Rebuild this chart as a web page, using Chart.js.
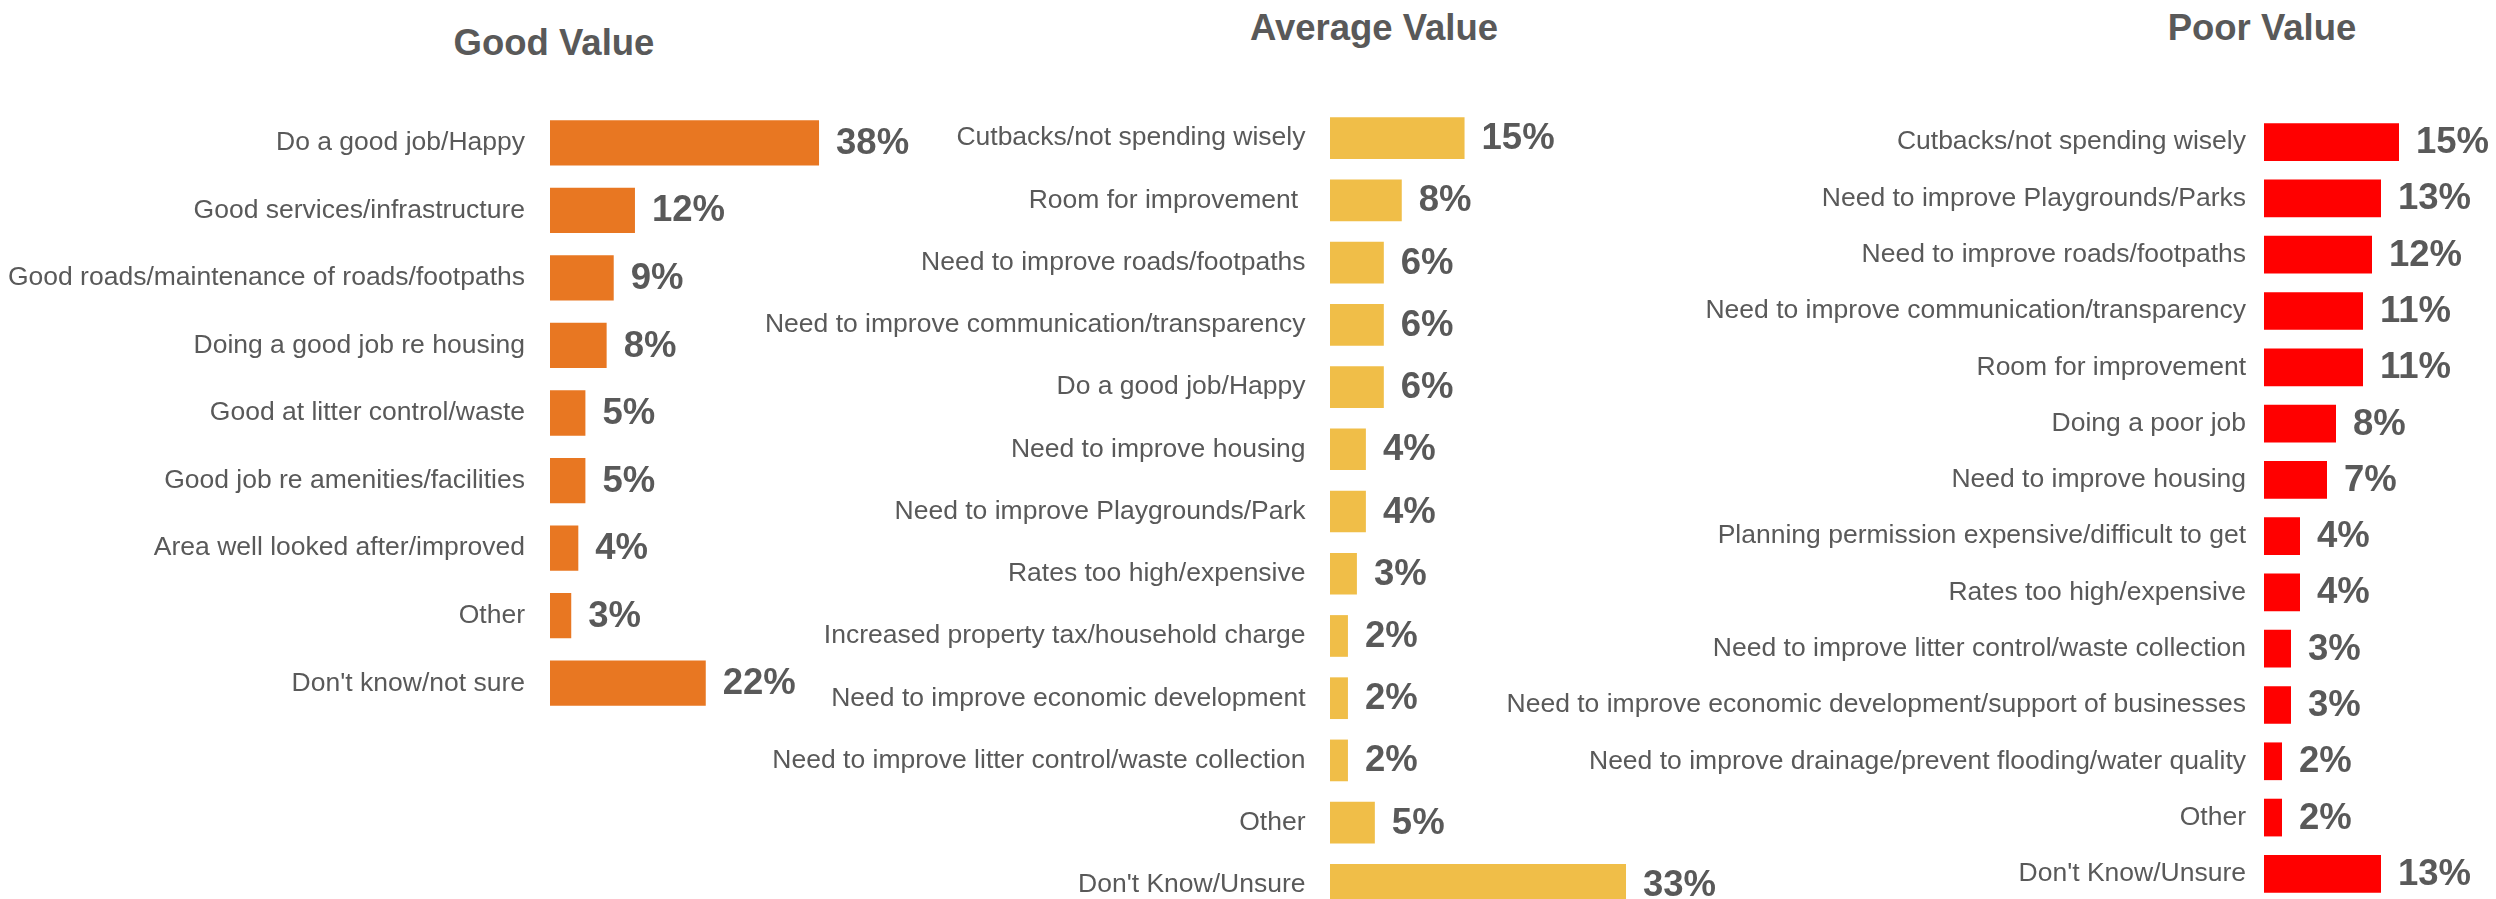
<!DOCTYPE html>
<html>
<head>
<meta charset="utf-8">
<script src="https://cdn.jsdelivr.net/npm/chart.js@4.4.1/dist/chart.umd.min.js"></script>
<style>
html,body{margin:0;padding:0;width:2496px;height:899px;overflow:hidden;background:#ffffff;}
#wrap{position:relative;width:2496px;height:899px;overflow:hidden;}
canvas{position:absolute;}
.title{position:absolute;font-family:"Liberation Sans",Arial,sans-serif;font-weight:bold;font-size:36.5px;line-height:36px;color:#595959;white-space:nowrap;transform:translateX(-50%);}
</style>
</head>
<body>
<div id="wrap">
  <div class="title" id="t0" style="left:554px;top:25px"></div>
  <div class="title" id="t1" style="left:1374px;top:10px"></div>
  <div class="title" id="t2" style="left:2262px;top:10px"></div>
  <canvas id="c0" width="975" height="608" style="left:0px;top:109px"></canvas>
  <canvas id="c1" width="1040" height="809" style="left:740px;top:107px"></canvas>
  <canvas id="c2" width="1010" height="788" style="left:1480px;top:114px"></canvas>
</div>
<script>
const panelTitles = ["Good Value", "Average Value", "Poor Value"];

const goodCategories = [
  "Do a good job/Happy",
  "Good services/infrastructure",
  "Good roads/maintenance of roads/footpaths",
  "Doing a good job re housing",
  "Good at litter control/waste",
  "Good job re amenities/facilities",
  "Area well looked after/improved",
  "Other",
  "Don't know/not sure"
];
const goodValues = [38, 12, 9, 8, 5, 5, 4, 3, 22];

const averageCategories = [
  "Cutbacks/not spending wisely",
  "Room for improvement ",
  "Need to improve roads/footpaths",
  "Need to improve communication/transparency",
  "Do a good job/Happy",
  "Need to improve housing",
  "Need to improve Playgrounds/Park",
  "Rates too high/expensive",
  "Increased property tax/household charge",
  "Need to improve economic development",
  "Need to improve litter control/waste collection",
  "Other",
  "Don't Know/Unsure"
];
const averageValues = [15, 8, 6, 6, 6, 4, 4, 3, 2, 2, 2, 5, 33];

const poorCategories = [
  "Cutbacks/not spending wisely",
  "Need to improve Playgrounds/Parks",
  "Need to improve roads/footpaths",
  "Need to improve communication/transparency",
  "Room for improvement",
  "Doing a poor job",
  "Need to improve housing",
  "Planning permission expensive/difficult to get",
  "Rates too high/expensive",
  "Need to improve litter control/waste collection",
  "Need to improve economic development/support of businesses",
  "Need to improve drainage/prevent flooding/water quality",
  "Other",
  "Don't Know/Unsure"
];
const poorValues = [15, 13, 12, 11, 11, 8, 7, 4, 4, 3, 3, 2, 2, 13];

const FONT = '"Liberation Sans", Arial, sans-serif';
const GREY = '#595959';

panelTitles.forEach((t, i) => { document.getElementById('t' + i).textContent = t; });

const valueLabels = {
  id: 'valueLabels',
  afterDatasetsDraw(chart) {
    const ctx = chart.ctx;
    const meta = chart.getDatasetMeta(0);
    const vals = chart.data.datasets[0].data;
    ctx.save();
    ctx.font = 'bold 36.5px ' + FONT;
    ctx.fillStyle = GREY;
    ctx.textAlign = 'left';
    ctx.textBaseline = 'middle';
    meta.data.forEach((bar, i) => {
      ctx.fillText(vals[i] + '%', bar.x + 17, bar.y + 1);
    });
    ctx.restore();
  }
};

function makeChart(id, categories, values, color, axisWidth, tickPad, pxPerPct) {
  const canvas = document.getElementById(id);
  const xMax = (canvas.width - axisWidth) / pxPerPct;
  return new Chart(canvas, {
    type: 'bar',
    data: {
      labels: categories,
      datasets: [{
        data: values,
        backgroundColor: color,
        borderWidth: 0,
        barPercentage: 0.67,
        categoryPercentage: 1.0
      }]
    },
    options: {
      indexAxis: 'y',
      responsive: false,
      animation: false,
      layout: { padding: 0 },
      plugins: { legend: { display: false }, title: { display: false }, tooltip: { enabled: false } },
      scales: {
        x: { display: false, min: 0, max: xMax },
        y: {
          grid: { display: false, drawTicks: false },
          border: { display: false },
          ticks: { color: GREY, font: { family: FONT, size: 26.5 }, padding: tickPad, autoSkip: false },
          afterFit(scale) {
            scale.width = axisWidth;
            scale.paddingTop = 0;
            scale.paddingBottom = 0;
          }
        }
      }
    },
    plugins: [valueLabels]
  });
}

makeChart('c0', goodCategories, goodValues, '#E87722', 550, 25, 7.08);
makeChart('c1', averageCategories, averageValues, '#F0BE48', 590, 24.5, 8.97);
makeChart('c2', poorCategories, poorValues, '#FF0000', 784, 18, 9.0);
</script>
</body>
</html>
